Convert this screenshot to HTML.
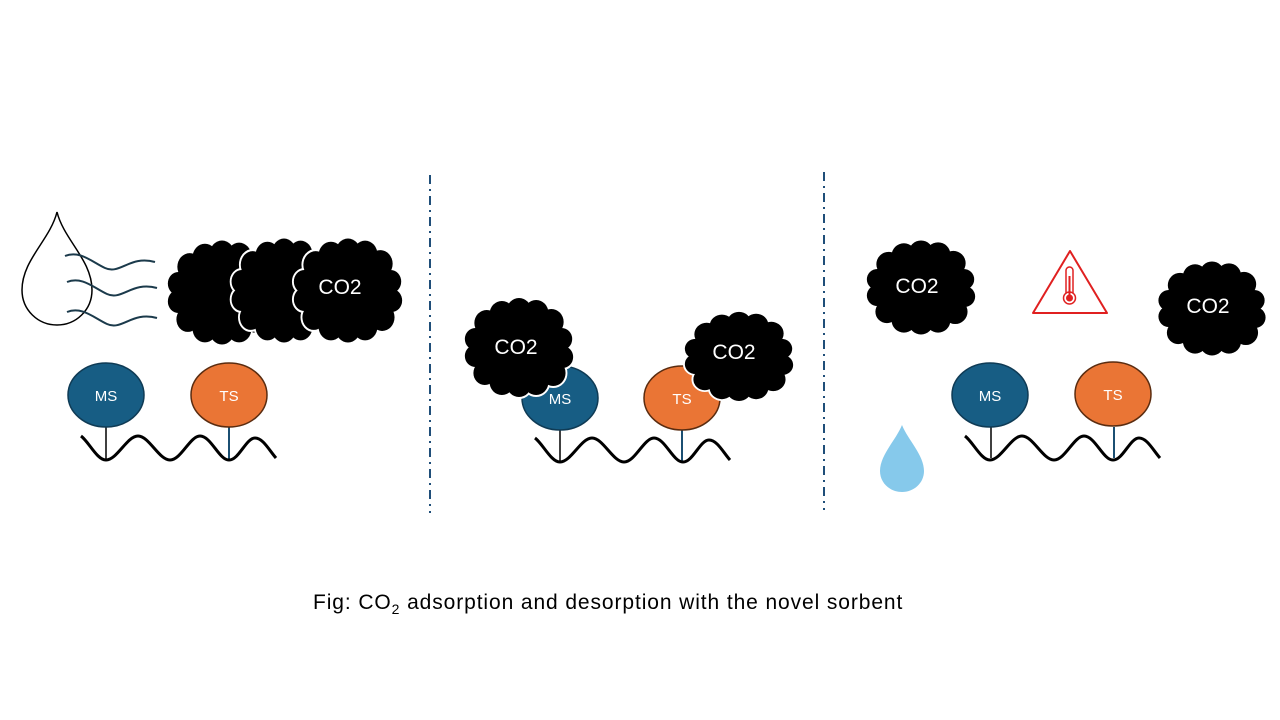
<!DOCTYPE html>
<html><head><style>
body{margin:0;background:#fff;}
svg{display:block;}
text{font-family:"Liberation Sans",sans-serif;}
</style></head><body>
<svg width="1280" height="720" viewBox="0 0 1280 720" xmlns="http://www.w3.org/2000/svg">
<defs>
<g id="cloud">
 <ellipse cx="0" cy="0" rx="44" ry="35" />
 <circle cx="-34" cy="-24" r="13"/><circle cx="-18" cy="-33" r="13"/><circle cx="0" cy="-36" r="13"/><circle cx="18" cy="-34" r="13"/><circle cx="34" cy="-25" r="13"/>
 <circle cx="45" cy="-8" r="11"/><circle cx="46" cy="10" r="11"/><circle cx="36" cy="26" r="13"/><circle cx="18" cy="35" r="13"/><circle cx="0" cy="37" r="13"/>
 <circle cx="-18" cy="35" r="13"/><circle cx="-36" cy="26" r="12"/><circle cx="-46" cy="9" r="11"/><circle cx="-46" cy="-8" r="11"/>
</g>
<path id="wave" d="M0,0 C8,6 16,24 25,24 C36,24 46,0 57,0 C68,0 78,24 89,24 C100,24 109,0 119,0 C130,0 138,24 148,24 C158,24 165,2 174,2 C182,2 188,14 195,22" fill="none" stroke="#000" stroke-width="3"/>
</defs>

<line x1="430" y1="175" x2="430" y2="513" stroke="#1f4e79" stroke-width="2" stroke-dasharray="9,5,2,5"/>
<line x1="824" y1="172" x2="824" y2="510" stroke="#1f4e79" stroke-width="2" stroke-dasharray="9,5,2,5"/>

<!-- Panel 1 -->
<path d="M57,212 C50,240 22,260 22,290 C22,310 38,325 57,325 C76,325 92,310 92,290 C92,260 64,240 57,212 Z" fill="none" stroke="#000" stroke-width="1.5"/>
<g fill="none" stroke="#1b3a4b" stroke-width="2">
<path d="M65,256 C80,250 92,262 105,268 C120,275 130,255 155,262"/>
<path d="M67,282 C82,276 94,288 107,294 C122,301 132,281 157,288"/>
<path d="M67,312 C82,306 94,318 107,324 C122,331 132,311 157,318"/>
</g>
<g fill="#000"><use href="#cloud" transform="translate(222,292) scale(0.95,1.05)"/></g>
<g fill="#fff" stroke="#fff" stroke-width="4"><use href="#cloud" transform="translate(284,290) scale(0.92,1.05)"/></g>
<g fill="#000"><use href="#cloud" transform="translate(284,290) scale(0.92,1.05)"/></g>
<g fill="#fff" stroke="#fff" stroke-width="4"><use href="#cloud" transform="translate(348,290) scale(0.95,1.05)"/></g>
<g fill="#000"><use href="#cloud" transform="translate(348,290) scale(0.95,1.05)"/></g>
<text x="340" y="294" font-size="21" fill="#fff" text-anchor="middle">CO2</text>

<line x1="106" y1="426" x2="106" y2="460" stroke="#000" stroke-width="1.5"/>
<line x1="229" y1="426" x2="229" y2="460" stroke="#1b4f72" stroke-width="2"/>
<use href="#wave" transform="translate(81,436)"/>
<ellipse cx="106" cy="395" rx="38" ry="32" fill="#175d84" stroke="#0f3b55" stroke-width="1.5"/>
<text x="106" y="401" font-size="15" fill="#fff" text-anchor="middle">MS</text>
<ellipse cx="229" cy="395" rx="38" ry="32" fill="#ea7535" stroke="#5a2c10" stroke-width="1.5"/>
<text x="229" y="401" font-size="15" fill="#fff" text-anchor="middle">TS</text>

<!-- Panel 2 -->
<line x1="560" y1="430" x2="560" y2="462" stroke="#000" stroke-width="1.5"/>
<line x1="682" y1="430" x2="682" y2="462" stroke="#1b4f72" stroke-width="2"/>
<use href="#wave" transform="translate(535,438)"/>
<ellipse cx="560" cy="398" rx="38" ry="32" fill="#175d84" stroke="#0f3b55" stroke-width="1.5"/>
<text x="560" y="404" font-size="15" fill="#fff" text-anchor="middle">MS</text>
<ellipse cx="682" cy="398" rx="38" ry="32" fill="#ea7535" stroke="#5a2c10" stroke-width="1.5"/>
<text x="682" y="404" font-size="15" fill="#fff" text-anchor="middle">TS</text>
<g fill="#fff" stroke="#fff" stroke-width="4"><use href="#cloud" transform="translate(519,347) scale(0.95,1.0)"/></g>
<g fill="#000"><use href="#cloud" transform="translate(519,347) scale(0.95,1.0)"/></g>
<text x="516" y="354" font-size="21" fill="#fff" text-anchor="middle">CO2</text>
<g fill="#fff" stroke="#fff" stroke-width="4"><use href="#cloud" transform="translate(739,356) scale(0.95,0.9)"/></g>
<g fill="#000"><use href="#cloud" transform="translate(739,356) scale(0.95,0.9)"/></g>
<text x="734" y="359" font-size="21" fill="#fff" text-anchor="middle">CO2</text>

<!-- Panel 3 -->
<g fill="#000"><use href="#cloud" transform="translate(921,287) scale(0.95,0.95)"/></g>
<text x="917" y="293" font-size="21" fill="#fff" text-anchor="middle">CO2</text>
<g fill="#000"><use href="#cloud" transform="translate(1212,308) scale(0.94,0.95)"/></g>
<text x="1208" y="313" font-size="21" fill="#fff" text-anchor="middle">CO2</text>
<path d="M1070,251 L1107,313 L1033,313 Z" fill="none" stroke="#e02020" stroke-width="2" stroke-linejoin="round"/>
<rect x="1066" y="267" width="7" height="30" rx="3.5" fill="none" stroke="#e02020" stroke-width="1.5"/>
<circle cx="1069.5" cy="298" r="6" fill="#fff" stroke="#e02020" stroke-width="1.5"/>
<circle cx="1069.5" cy="298" r="3.5" fill="#e02020"/>
<line x1="1069.5" y1="276" x2="1069.5" y2="296" stroke="#e02020" stroke-width="2"/>

<line x1="991" y1="427" x2="991" y2="458" stroke="#000" stroke-width="1.5"/>
<line x1="1114" y1="427" x2="1114" y2="458" stroke="#1b4f72" stroke-width="2"/>
<use href="#wave" transform="translate(965,436)"/>
<ellipse cx="990" cy="395" rx="38" ry="32" fill="#175d84" stroke="#0f3b55" stroke-width="1.5"/>
<text x="990" y="401" font-size="15" fill="#fff" text-anchor="middle">MS</text>
<ellipse cx="1113" cy="394" rx="38" ry="32" fill="#ea7535" stroke="#5a2c10" stroke-width="1.5"/>
<text x="1113" y="400" font-size="15" fill="#fff" text-anchor="middle">TS</text>
<path d="M902,425 C896,440 880,455 880,471 C880,483 890,492 902,492 C914,492 924,483 924,471 C924,455 908,440 902,425 Z" fill="#86c9eb"/>

<text x="313" y="609" font-size="21" letter-spacing="0.9" fill="#000">Fig: CO<tspan font-size="14" dy="5">2</tspan><tspan dy="-5"> adsorption and desorption with the novel sorbent</tspan></text>
</svg>
</body></html>
